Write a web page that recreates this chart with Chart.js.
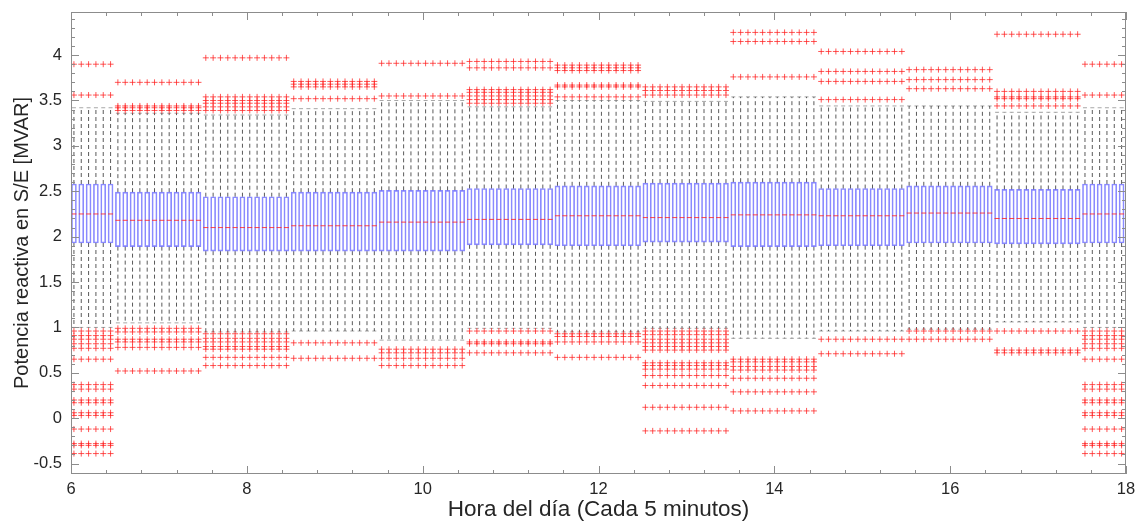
<!DOCTYPE html>
<html>
<head>
<meta charset="utf-8">
<script src="https://cdn.jsdelivr.net/npm/chart.js@4"></script>
<style>
  body { margin: 0; background: #fff; }
</style>
</head>
<body>
<canvas id="myChart" width="1140" height="523"></canvas>
<script>
// one box every 5 minutes; each hourly block repeats the same statistics
const groupSizes = [6, 12, 12, 12, 12, 12, 12, 12, 12, 12, 12, 12, 6];
const q3 =          [2.58, 2.49, 2.44, 2.49, 2.51, 2.53, 2.56, 2.59, 2.60, 2.53, 2.56, 2.52, 2.58];
const medians =     [2.25, 2.18, 2.10, 2.12, 2.16, 2.19, 2.23, 2.21, 2.24, 2.23, 2.26, 2.20, 2.25];
const q1 =          [1.93, 1.89, 1.84, 1.84, 1.84, 1.91, 1.90, 1.94, 1.89, 1.90, 1.93, 1.92, 1.93];
const whiskerHigh = [3.42, 3.36, 3.34, 3.41, 3.50, 3.43, 3.50, 3.49, 3.54, 3.44, 3.44, 3.37, 3.42];
const whiskerLow =  [1.00, 1.05, 0.95, 0.96, 0.86, 0.99, 0.95, 0.99, 0.88, 0.96, 0.98, 1.06, 1.00];
const outliersHigh = [
  [3.90, 3.56],
  [3.70, 3.44, 3.42, 3.39],
  [3.97, 3.54, 3.50, 3.47, 3.43, 3.39],
  [3.71, 3.68, 3.65, 3.52],
  [3.91, 3.55],
  [3.93, 3.86, 3.62, 3.59, 3.55, 3.51, 3.47],
  [3.89, 3.86, 3.83, 3.67, 3.65, 3.54],
  [3.65, 3.61, 3.56],
  [4.25, 4.15, 3.76],
  [4.04, 3.82, 3.71, 3.51],
  [3.84, 3.73, 3.63],
  [4.23, 3.60, 3.54, 3.52, 3.44],
  [3.90, 3.56]
];
const outliersLow = [
  [0.96, 0.91, 0.87, 0.82, 0.77, 0.65, 0.37, 0.32, 0.20, 0.17, 0.06, 0.03, -0.12, -0.28, -0.30, -0.39],
  [0.99, 0.95, 0.87, 0.84, 0.78, 0.52],
  [0.93, 0.88, 0.84, 0.79, 0.76, 0.67, 0.58],
  [0.83, 0.66],
  [0.76, 0.72, 0.66, 0.58],
  [0.96, 0.84, 0.82, 0.72],
  [0.93, 0.90, 0.84, 0.67],
  [0.96, 0.92, 0.87, 0.83, 0.79, 0.75, 0.61, 0.58, 0.54, 0.47, 0.36, 0.12, -0.14],
  [0.65, 0.62, 0.57, 0.53, 0.44, 0.29, 0.08],
  [0.87, 0.71],
  [0.96, 0.87],
  [0.96, 0.75, 0.72],
  [0.96, 0.91, 0.87, 0.82, 0.77, 0.65, 0.37, 0.32, 0.20, 0.17, 0.06, 0.03, -0.12, -0.28, -0.30, -0.39]
];
const xTickStep = 0.4;
const yTickStep = 0.1;

// box positions: 144 slots of 5 minutes from 6:00 to 18:00
const boxX = [];
const boxGroup = [];
let slot = 0;
groupSizes.forEach((n, g) => {
  for (let i = 0; i < n; i++) {
    boxX.push(6 + (slot + 0.4) / 12);
    boxGroup.push(g);
    slot++;
  }
});

const boxes = [], meds = [], whiskers = [], caps = [], outliers = [];
boxX.forEach((x, i) => {
  const g = boxGroup[i];
  boxes.push({x: x, y: [q1[g], q3[g]]});
  meds.push({x: x, y: medians[g]});
  whiskers.push({x: x, y: q3[g]}, {x: x, y: whiskerHigh[g]}, {x: x, y: null});
  whiskers.push({x: x, y: q1[g]}, {x: x, y: whiskerLow[g]}, {x: x, y: null});
  caps.push({x: x, y: whiskerHigh[g]}, {x: x, y: whiskerLow[g]});
  outliersHigh[g].concat(outliersLow[g]).forEach(v => outliers.push({x: x, y: v}));
});

const fontFamily = '"Liberation Sans", Arial, sans-serif';
const textColor = '#262626';

// MATLAB style box: axes frame with inward ticks on all four sides
const axesBox = {
  id: 'axesBox',
  afterDatasetsDraw(chart) {
    const {ctx, chartArea: a, scales: {x, y}} = chart;
    ctx.save();
    ctx.strokeStyle = '#8c8c8c';
    ctx.lineWidth = 1;
    ctx.beginPath();
    x.ticks.forEach(t => {
      const px = Math.round(x.getPixelForValue(t.value)) + 0.5;
      const len = t.label !== '' ? 8 : 4;
      ctx.moveTo(px, a.bottom); ctx.lineTo(px, a.bottom - len);
      ctx.moveTo(px, a.top); ctx.lineTo(px, a.top + len);
    });
    y.ticks.forEach(t => {
      const py = Math.round(y.getPixelForValue(t.value)) + 0.5;
      const len = t.label !== '' ? 8 : 4;
      ctx.moveTo(a.left, py); ctx.lineTo(a.left + len, py);
      ctx.moveTo(a.right, py); ctx.lineTo(a.right - len, py);
    });
    ctx.stroke();
    ctx.strokeRect(Math.round(a.left) + 0.5, Math.round(a.top) + 0.5,
                   Math.round(a.width) - 1, Math.round(a.height) - 1);
    ctx.restore();
  }
};

new Chart(document.getElementById('myChart'), {
  type: 'scatter',
  data: {
    datasets: [
      {
        type: 'scatter',
        data: outliers,
        pointStyle: 'cross',
        radius: 3,
        borderColor: 'rgba(255, 30, 30, 0.75)',
        backgroundColor: 'rgba(255, 30, 30, 0.75)',
        borderWidth: 1
      },
      {
        type: 'scatter',
        data: meds,
        pointStyle: 'line',
        radius: 2.5,
        borderColor: 'rgba(255, 40, 40, 0.85)',
        borderWidth: 1
      },
      {
        type: 'bar',
        data: boxes,
        barThickness: 5,
        backgroundColor: 'rgba(0, 0, 0, 0)',
        borderColor: 'rgba(60, 60, 255, 0.6)',
        borderWidth: 1,
        borderSkipped: false
      },
      {
        type: 'scatter',
        data: caps,
        pointStyle: 'line',
        radius: 2,
        borderColor: 'rgba(0, 0, 0, 0.35)',
        borderWidth: 1
      },
      {
        type: 'line',
        data: whiskers,
        borderColor: 'rgba(0, 0, 0, 0.65)',
        borderWidth: 1,
        borderDash: [4, 3],
        pointRadius: 0,
        spanGaps: false,
        tension: 0
      }
    ]
  },
  options: {
    responsive: false,
    animation: false,
    events: [],
    layout: { padding: { top: 12, right: 14, left: 0, bottom: 0 } },
    plugins: {
      legend: { display: false },
      tooltip: { enabled: false }
    },
    scales: {
      x: {
        type: 'linear',
        min: 6,
        max: 18,
        offset: false,
        afterFit: s => { s.height = 49; s.paddingLeft = 0; s.paddingRight = 0; },
        grid: { display: false, drawTicks: false, offset: false },
        border: { display: false },
        ticks: {
          stepSize: xTickStep,
          autoSkip: false,
          includeBounds: false,
          maxRotation: 0,
          padding: 6,
          color: textColor,
          font: { family: fontFamily, size: 16.5 },
          callback: v => {
            const r = Math.round(v);
            return (Math.abs(v - r) < 1e-6 && r % 2 === 0) ? String(r) : '';
          }
        },
        title: {
          display: true,
          text: 'Hora del día (Cada 5 minutos)',
          color: textColor,
          font: { family: fontFamily, size: 22.5 },
          padding: { top: 0, bottom: 0 }
        }
      },
      y: {
        type: 'linear',
        min: -0.615,
        max: 4.475,
        beginAtZero: false,
        afterFit: s => { s.width = 71; s.paddingTop = 0; s.paddingBottom = 0; },
        grid: { display: false, drawTicks: false },
        border: { display: false },
        ticks: {
          stepSize: yTickStep,
          autoSkip: false,
          includeBounds: false,
          padding: 9,
          color: textColor,
          font: { family: fontFamily, size: 16.5 },
          callback: v => {
            const h = Math.round(v * 2);
            return Math.abs(v * 2 - h) < 1e-6 ? String(h / 2) : '';
          }
        },
        title: {
          display: true,
          text: 'Potencia reactiva en S/E [MVAR]',
          color: textColor,
          font: { family: fontFamily, size: 20 },
          padding: { top: 10, bottom: 0 }
        }
      }
    }
  },
  plugins: [axesBox]
});
</script>
</body>
</html>
